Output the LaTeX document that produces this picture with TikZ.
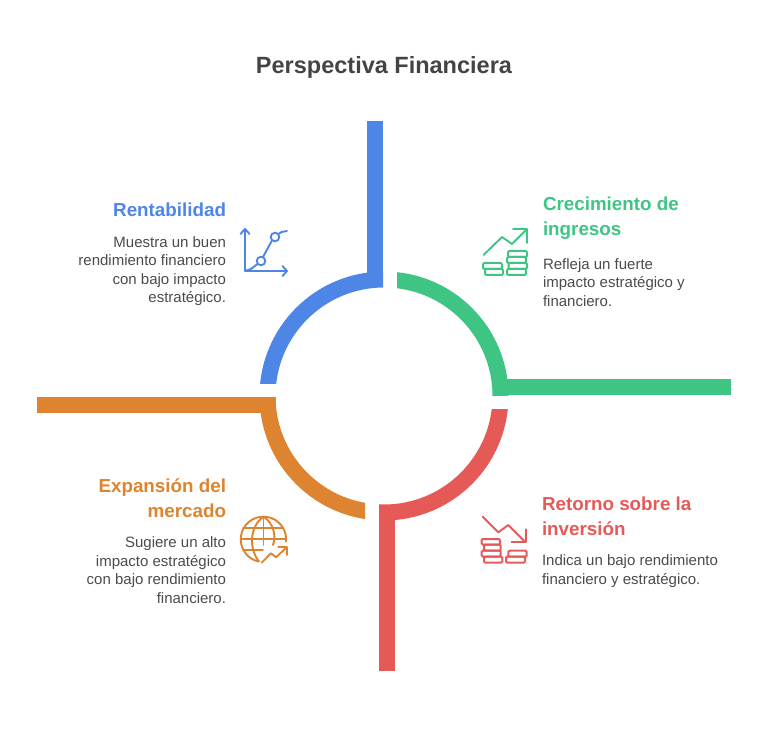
\documentclass[tikz,border=0pt]{standalone}
\usepackage{fontspec}
\setmainfont{Liberation Sans}
\usetikzlibrary{positioning}
\definecolor{azul}{HTML}{4E86E8}
\definecolor{verde}{HTML}{3EC584}
\definecolor{rojo}{HTML}{E55A57}
\definecolor{naranja}{HTML}{DE832F}
\definecolor{tinta}{HTML}{444444}
\definecolor{cuerpo}{HTML}{4C4A4A}
\begin{document}
\begin{tikzpicture}[x=1pt, y=1pt, inner sep=0pt, outer sep=0pt,
    titulo/.style = {font=\fontsize{23.5}{28}\selectfont\bfseries, text=tinta},
    cabeza/.style = {font=\fontsize{18.8}{24.5}\selectfont\bfseries},
    cuerpoL/.style = {font=\fontsize{15}{18.4}\selectfont, text=cuerpo, align=right},
    cuerpoR/.style = {font=\fontsize{15}{18.4}\selectfont, text=cuerpo, align=left},
    anillo/.style = {line width=16pt},
    icono/.style = {line width=1.9pt, line cap=round, line join=round},
    moneda/.style = {line width=2pt, rounded corners=1.2pt}]
    \useasboundingbox (0,0) rectangle (768,732);
    \coordinate (c) at (384,336);
    % arcos
    \begin{scope}
        \clip (250,349) rectangle (383,480);
        \draw[anillo, azul] (c) circle[radius=116.5];
    \end{scope}
    \begin{scope}
        \clip (397,337) rectangle (520,480);
        \draw[anillo, verde] (c) circle[radius=116.5];
    \end{scope}
    \begin{scope}
        \clip (379,323) rectangle (520,200);
        \draw[anillo, rojo] (c) circle[radius=116.5];
    \end{scope}
    \begin{scope}
        \clip (250,335) rectangle (365,200);
        \draw[anillo, naranja] (c) circle[radius=116.5];
    \end{scope}
    % barras
    \fill[azul] (367,444.5) rectangle (383,611);
    \fill[verde] (492.5,337) rectangle (731,353);
    \fill[rojo] (379,61) rectangle (395,227.5);
    \fill[naranja] (37,319) rectangle (275.5,335);
    % textos
    \node[titulo] (title) at (384,665) {Perspectiva Financiera};
    \node[cabeza, text=azul, anchor=east] (h1) at (226,522) {Rentabilidad};
    \node[cuerpoL] (t1) [below=19.5pt of h1.south east, anchor=north east] {Muestra un buen\\rendimiento financiero\\con bajo impacto\\estratégico.};
    \node[cabeza, text=verde, anchor=north west, align=left] (h2) at (543,535) {Crecimiento de\\ingresos};
    \node[cuerpoR] (t2) [below=19.5pt of h2.south west, anchor=north west] {Refleja un fuerte\\impacto estratégico y\\financiero.};
    \node[cabeza, text=rojo, anchor=north west, align=left] (h3) at (542,235) {Retorno sobre la\\inversión};
    \node[cuerpoR] (t3) [below=19.5pt of h3.south west, anchor=north west] {Indica un bajo rendimiento\\financiero y estratégico.};
    \node[cabeza, text=naranja, anchor=north east, align=right] (h4) at (226,253) {Expansión del\\mercado};
    \node[cuerpoL] (t4) [below=19.5pt of h4.south east, anchor=north east] {Sugiere un alto\\impacto estratégico\\con bajo rendimiento\\financiero.};
    % icono azul
    \draw[icono, azul] (245,503) -- (245,461) -- (287,461);
    \draw[icono, azul] (240.5,498) -- (245,503) -- (249.5,498);
    \draw[icono, azul] (282.5,456) -- (287,461) -- (282.5,466);
    \draw[icono, azul] (261,471) circle[radius=4.3];
    \draw[icono, azul] (275,495) circle[radius=4.3];
    \draw[icono, azul] (245,461) -- (251,463) -- (257.5,468);
    \draw[icono, azul] (263,475) -- (272,491.5);
    \draw[icono, azul] (278.5,498) .. controls (281,500) .. (287,501);
    % icono verde
    \draw[icono, verde] (483.5,477) -- (502,495) -- (512,488) -- (527,503);
    \draw[icono, verde] (513,503) -- (527,503) -- (527,489);
    \draw[moneda, verde] (508,475) rectangle (527,481);
    \draw[moneda, verde] (507,469) rectangle (526,475);
    \draw[moneda, verde] (508.5,463) rectangle (527,469);
    \draw[moneda, verde] (507,457) rectangle (526,463);
    \draw[moneda, verde] (483,463) rectangle (502,469);
    \draw[moneda, verde] (485,457) rectangle (503,463);
    % icono rojo
    \draw[icono, rojo] (482.7,215.3) -- (498.3,199.7) -- (508.3,207) -- (525,190.3);
    \draw[icono, rojo] (511.7,189.7) -- (526,189.7) -- (526,202.7);
    \draw[moneda, rojo] (481.7,187.3) rectangle (500,193);
    \draw[moneda, rojo] (484,181.3) rectangle (500.7,187.3);
    \draw[moneda, rojo] (481.7,175.3) rectangle (500.7,181.3);
    \draw[moneda, rojo] (484,169.3) rectangle (502.3,175.3);
    \draw[moneda, rojo] (508.3,175.3) rectangle (526.7,181.3);
    \draw[moneda, rojo] (506,169.3) rectangle (525,175.3);
    % icono naranja
    \draw[icono, naranja] (286,190.3) arc[start angle=-6, end angle=257, radius=22.7pt];
    \draw[icono, naranja] (243,203.7) -- (283,203.7);
    \draw[icono, naranja] (241,192.7) -- (285,192.7);
    \draw[icono, naranja] (243,182) -- (263,182);
    \draw[icono, naranja] (263.5,215.3) .. controls (249,205) and (249,183) .. (259,170.5);
    \draw[icono, naranja] (263.5,215.3) .. controls (272,210) and (277,198) .. (273,187);
    \draw[icono, naranja] (263.5,215.3) -- (263.5,187);
    \draw[icono, naranja] (261.7,169.3) -- (271,178.7) -- (276,174.7) -- (286.7,184.7);
    \draw[icono, naranja] (278.3,184.7) -- (286.7,184.7) -- (286.7,177);
\end{tikzpicture}
\end{document}
